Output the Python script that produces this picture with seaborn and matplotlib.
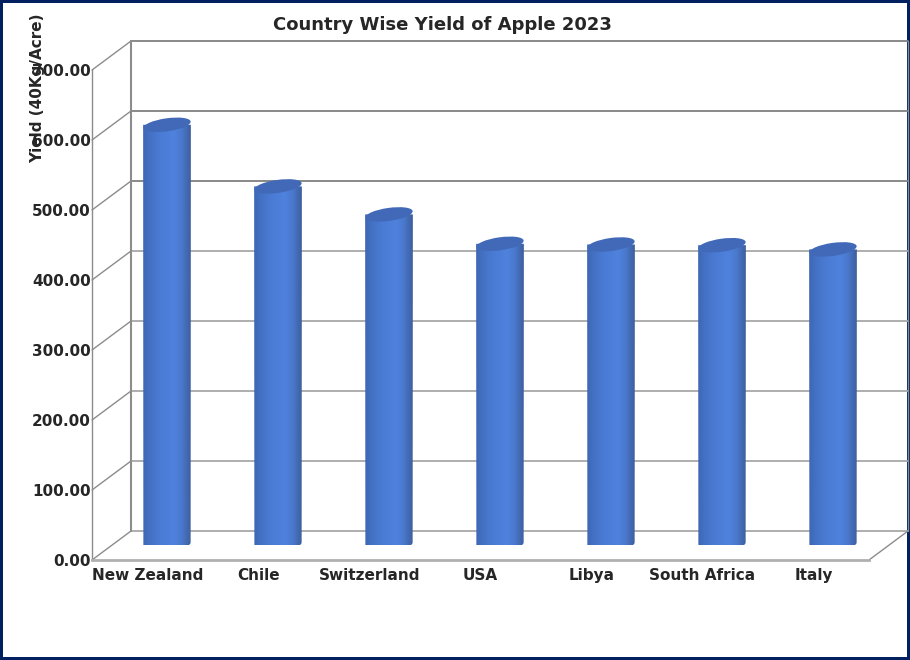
import numpy as np
import seaborn as sns
import matplotlib.pyplot as plt
from matplotlib.colors import LinearSegmentedColormap
from matplotlib.patches import Ellipse, PathPatch
from matplotlib.path import Path
from matplotlib.transforms import Affine2D, IdentityTransform

countries = ['New Zealand', 'Chile', 'Switzerland', 'USA', 'Libya', 'South Africa', 'Italy']
yields = [601, 513, 473, 431, 430, 429, 423]
y_ticks = [0, 100, 200, 300, 400, 500, 600, 700]

sns.set_style('white')
plt.rcParams['font.family'] = ['DejaVu Sans']

fig = plt.figure(figsize=(9.1, 6.6), dpi=100, facecolor='white', edgecolor='#002060', linewidth=4.3)
ax = fig.add_axes([92 / 910, 100 / 660, 777 / 910, 490 / 660])
ax.patch.set_alpha(0)

sns.barplot(x=countries, y=yields, ax=ax, width=0.43, color='#4a7bd4', zorder=3)
ax.set_xlim(-0.5, 6.5)
ax.set_ylim(0, 700)
ax.set_yticks(y_ticks)
ax.set_yticklabels([f'{t:.2f}' for t in y_ticks], fontsize=11, fontweight='bold')
ax.set_xticks(range(len(countries)))
ax.set_xticklabels(countries, fontsize=11, fontweight='bold')
ax.tick_params(length=0, pad=1)
ax.tick_params(axis='x', pad=6)

ax.set_ylabel('Yield (40Kg/Acre)', fontsize=11, fontweight='bold', loc='bottom')
ax.yaxis.set_label_coords((38 - 92 + 7) / 777, (560 - 163) / 490)
fig.text(442 / 910, 1 - 25 / 660, 'Country Wise Yield of Apple 2023', fontsize=13, fontweight='bold',
         ha='center', va='center')

for s in ['top', 'right']:
    ax.spines[s].set_visible(False)
ax.spines['left'].set_color('#8c8c8c')
ax.spines['left'].set_linewidth(1)
ax.spines['bottom'].set_color('#b0b0b0')
ax.spines['bottom'].set_linewidth(2)

# oblique depth of the 3d box, in pixels
depth = Affine2D().translate(39, 29)
back = ax.transData + depth
for t in y_ticks:
    color = '#808080' if t >= 500 else '#a8a8a8'
    ax.plot([-0.5, 6.5], [t, t], color=color, lw=1.3, transform=back, clip_on=False, zorder=1)
    ax.plot([-0.5, -0.5], [t, t], lw=0)
    # side wall
    p0 = ax.transData.transform((-0.5, t))
    ax.plot([p0[0], p0[0] + 39], [p0[1], p0[1] + 29], color='#8c8c8c', lw=1,
            transform=IdentityTransform(), clip_on=False, zorder=1)
ax.plot([-0.5, -0.5], [0, 700], color='#8c8c8c', lw=1.5, transform=back, clip_on=False, zorder=1)
ax.plot([6.5, 6.5], [0, 700], color='#8c8c8c', lw=1, transform=back, clip_on=False, zorder=1)
p0 = ax.transData.transform((6.5, 0))
ax.plot([p0[0], p0[0] + 39], [p0[1], p0[1] + 29], color='#8c8c8c', lw=1,
        transform=IdentityTransform(), clip_on=False, zorder=1)

# turn the flat seaborn bars into cylinders
shade = LinearSegmentedColormap.from_list('cyl', [(0, '#3f68b4'), (0.12, '#4370c2'), (0.35, '#4a7bd4'),
                                                  (0.65, '#4f82de'), (0.82, '#4a78cc'), (1, '#3d5f9e')])
grad = np.linspace(0, 1, 64).reshape(1, -1)
mid = Affine2D().translate(19.5, 14.5)
tilt = 8
for bar in list(ax.patches):
    x0, x1 = bar.get_x(), bar.get_x() + bar.get_width()
    h = bar.get_height()
    bar.set_visible(False)
    (px0, py0), (px1, py1) = (ax.transData + mid).transform([(x0, 0), (x1, h)])
    pw = px1 - px0
    pc = (px0 + px1) / 2
    e_h = 13
    # body outline: the bottom ellipse half and straight sides
    th = np.linspace(np.pi, 2 * np.pi, 40)
    r = np.radians(tilt)
    ex, ey = pw / 2 * np.cos(th), e_h / 2 * np.sin(th)
    bx = pc + ex * np.cos(r) - ey * np.sin(r)
    by = py0 + ex * np.sin(r) + ey * np.cos(r)
    verts = list(zip(bx, by)) + [(px1, py1), (px0, py1)]
    clip = PathPatch(Path(verts + [verts[0]]), transform=IdentityTransform())
    im = ax.imshow(grad, cmap=shade, aspect='auto', extent=(x0, x1, 0, h + 30), zorder=3,
                   transform=ax.transData + mid, clip_on=True)
    im.set_clip_path(clip)
    top = Ellipse((0, 0), pw, e_h, facecolor='#4169b8', edgecolor='none', zorder=4,
                  transform=Affine2D().rotate_deg(tilt).translate(pc, py1), clip_on=False)
    ax.add_artist(top)
ax.set_xlim(-0.5, 6.5)
ax.set_ylim(0, 700)

fig.savefig('out.png', dpi=100)
